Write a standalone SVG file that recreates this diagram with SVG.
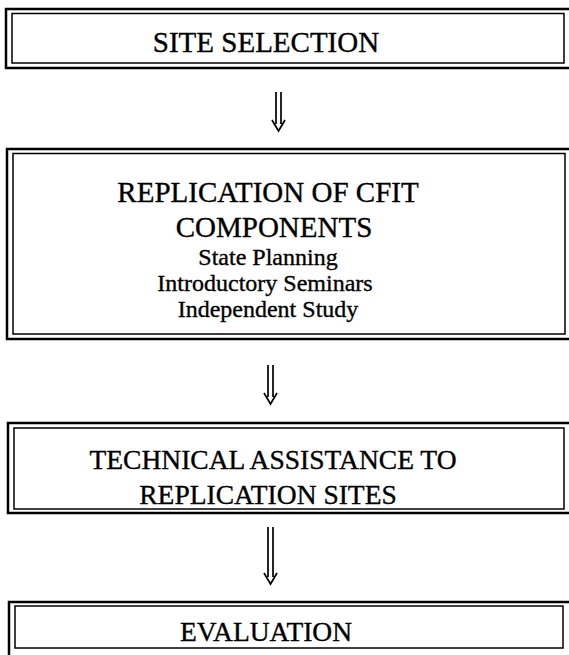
<svg xmlns="http://www.w3.org/2000/svg" width="569" height="655" viewBox="0 0 569 655">
<style>
.outer{fill:none;stroke:#000;stroke-width:2.5}
.inner{fill:none;stroke:#000;stroke-width:1.5}
.h{font-family:"Liberation Serif","Times New Roman",serif;font-size:29px;fill:#000;stroke:#000;stroke-width:0.35;text-anchor:middle}
.s{font-family:"Liberation Serif","Times New Roman",serif;font-size:24px;fill:#000;stroke:#000;stroke-width:0.35;text-anchor:middle}
.arr{fill:none;stroke:#000;stroke-width:1.7}
</style>
<rect width="569" height="655" fill="#fff"/>
<g id="site-selection">
<rect class="outer" x="6" y="9" width="566" height="59"/>
<rect class="inner" x="12" y="13.5" width="552" height="49.5"/>
<text class="h" x="266" y="52">SITE SELECTION</text>
</g>
<g id="replication">
<rect class="outer" x="7" y="149" width="565" height="190"/>
<rect class="inner" x="13" y="153.5" width="552" height="180.5"/>
<text class="h" x="268" y="202">REPLICATION OF CFIT</text>
<text class="h" x="274" y="237">COMPONENTS</text>
<text class="s" x="268" y="265">State Planning</text>
<text class="s" x="265" y="291">Introductory Seminars</text>
<text class="s" x="268" y="317">Independent Study</text>
</g>
<g id="technical-assistance">
<rect class="outer" x="8" y="423" width="564" height="90"/>
<rect class="inner" x="14" y="428" width="550" height="81"/>
<text class="h" x="273" y="469" style="font-size:27.5px">TECHNICAL ASSISTANCE TO</text>
<text class="h" x="268" y="504" style="font-size:27.5px">REPLICATION SITES</text>
</g>
<g id="evaluation">
<rect class="outer" x="9" y="602" width="563" height="60"/>
<rect class="inner" x="15" y="606" width="548" height="42"/>
<text class="h" x="266" y="641" style="font-size:27.5px">EVALUATION</text>
</g>
<g id="connectors">
<path class="arr" d="M276 92V124M281 92V124M272 120L278.5 131L285 120"/>
<path class="arr" d="M268 365V397M273 365V397M264 393L270.5 404L277 393"/>
<path class="arr" d="M268 527V577M273 527V577M264 573L270.5 584L277 573"/>
</g>
</svg>
